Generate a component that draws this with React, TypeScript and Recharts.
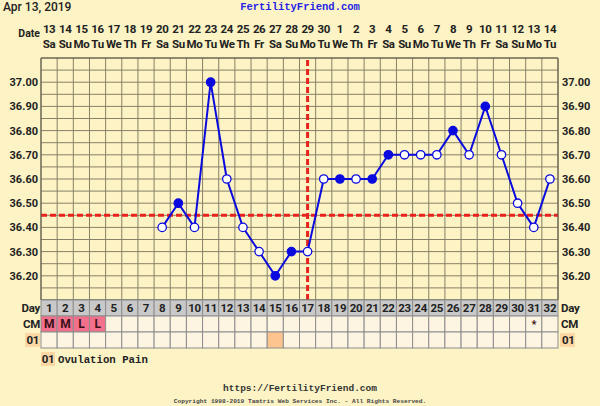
import React from 'react';
import { ComposedChart, Line, XAxis, YAxis, CartesianGrid, ReferenceLine } from 'recharts';

const days = [1, 2, 3, 4, 5, 6, 7, 8, 9, 10, 11, 12, 13, 14, 15, 16, 17, 18, 19, 20, 21, 22, 23, 24, 25, 26, 27, 28, 29, 30, 31, 32];
const dates = ['13', '14', '15', '16', '17', '18', '19', '20', '21', '22', '23', '24', '25', '26', '27', '28', '29', '30', '1', '2', '3', '4', '5', '6', '7', '8', '9', '10', '11', '12', '13', '14'];
const weekdays = ['Sa', 'Su', 'Mo', 'Tu', 'We', 'Th', 'Fr', 'Sa', 'Su', 'Mo', 'Tu', 'We', 'Th', 'Fr', 'Sa', 'Su', 'Mo', 'Tu', 'We', 'Th', 'Fr', 'Sa', 'Su', 'Mo', 'Tu', 'We', 'Th', 'Fr', 'Sa', 'Su', 'Mo', 'Tu'];
const temps = [null, null, null, null, null, null, null, 36.4, 36.5, 36.4, 37.0, 36.6, 36.4, 36.3, 36.2, 36.3, 36.3, 36.6, 36.6, 36.6, 36.6, 36.7, 36.7, 36.7, 36.7, 36.8, 36.7, 36.9, 36.7, 36.5, 36.4, 36.6];
const filledDays = [9, 11, 15, 16, 19, 21, 22, 26, 28];
const cervicalMucus = ['M', 'M', 'L', 'L', '', '', '', '', '', '', '', '', '', '', '', '', '', '', '', '', '', '', '', '', '', '', '', '', '', '', '*', ''];
const ovulationPainDays = [15];
const yTicks = [36.2, 36.3, 36.4, 36.5, 36.6, 36.7, 36.8, 36.9, 37.0];
const coverline = 36.45;
const ovulationDay = 17;

const data = days.map((d, i) => ({ day: d, temp: temps[i] }));

const W = 600;
const H = 406;
const LEFT = 41;
const RIGHT = 42;
const TOP = 58;
const PLOT_H = 242;
const COL = (W - LEFT - RIGHT) / days.length;
const ROW = 16;

const BG = '#fdf3c4';
const GRID = '#878169';
const FONT = 'Roboto, sans-serif';
const MONO = '"Liberation Mono", monospace';
const PEACH = '#fdc48f';

function TopTick(props: any) {
  const { x, y, payload } = props;
  const i = days.indexOf(payload.value);
  return (
    <g fontFamily={FONT} fontWeight="bold" fontSize={11.5} fill="#222" letterSpacing={-0.4}>
      <text x={x} y={y - 25} textAnchor="middle">{dates[i]}</text>
      <text x={x} y={y - 10} textAnchor="middle">{weekdays[i]}</text>
    </g>
  );
}

function BottomTick(props: any) {
  const { x, y, payload } = props;
  const day = payload.value;
  const i = days.indexOf(day);
  const l = x - COL / 2;
  const cm = cervicalMucus[i];
  const pinkCell = cm === 'M' || cm === 'L';
  const pain = ovulationPainDays.includes(day);
  return (
    <g fontFamily={FONT} fontWeight="bold" fontSize={11.5} letterSpacing={-0.3}>
      <rect x={l} y={y} width={COL} height={ROW} fill="#c9c9c9" stroke="#8d8d8d" />
      <text x={x} y={y + 12} textAnchor="middle" fill="#222">{day}</text>
      <rect x={l} y={y + ROW} width={COL} height={ROW} fill={pinkCell ? '#f2708c' : '#fdf4e2'} stroke="#8d8d8d" />
      {cm && <text x={x} y={y + ROW + 12} textAnchor="middle" fill="#3a1018" fontSize={cm === '*' ? 11 : 12}>{cm}</text>}
      <rect x={l} y={y + ROW * 2} width={COL} height={ROW} fill={pain ? PEACH : '#fdf4e2'} stroke="#8d8d8d" />
    </g>
  );
}

function TempDot(props: any) {
  const { cx, cy, payload, index } = props;
  if (payload.temp == null || cx == null || cy == null) return <g key={'d' + index} />;
  const filled = filledDays.includes(payload.day);
  return (
    <circle
      key={'d' + index}
      cx={cx}
      cy={cy}
      r={4.2}
      fill={filled ? '#0a0adf' : '#ffffff'}
      stroke="#0a0adf"
      strokeWidth={1.3}
    />
  );
}

export default function App() {
  const vGrid = () => days.concat([0]).map((_, k) => LEFT + k * COL);
  const hGrid = () => Array.from({ length: 21 }, (_, k) => TOP + (k * PLOT_H) / 20);

  return (
    <div style={{ position: 'relative', width: W, height: H, background: BG }}>
      <style>{'body{margin:0;}'}</style>
      <ComposedChart
        width={W}
        height={H}
        data={data}
        margin={{ top: 0, right: 0, bottom: H - TOP - PLOT_H - ROW * 3, left: 0 }}
      >
        <CartesianGrid
          stroke={GRID}
          strokeWidth={1}
          verticalCoordinatesGenerator={vGrid}
          horizontalCoordinatesGenerator={hGrid}
        />
        <XAxis
          xAxisId="top"
          dataKey="day"
          orientation="top"
          scale="band"
          height={TOP}
          interval={0}
          tickSize={0}
          tickMargin={0}
          axisLine={{ stroke: '#5d5848' }}
          tick={<TopTick />}
        />
        <XAxis
          dataKey="day"
          orientation="bottom"
          scale="band"
          height={ROW * 3}
          interval={0}
          tickSize={0}
          tickMargin={0}
          axisLine={{ stroke: '#5d5848' }}
          tick={<BottomTick />}
        />
        <YAxis
          type="number"
          domain={[36.1, 37.1]}
          ticks={yTicks}
          width={LEFT}
          tickSize={0}
          tickMargin={3}
          axisLine={{ stroke: '#5d5848' }}
          tick={{ fontFamily: FONT, fontWeight: 'bold', fontSize: 11, fill: '#222' }}
          tickFormatter={(v: number) => v.toFixed(2)}
          allowDataOverflow
        />
        <YAxis
          yAxisId="r"
          orientation="right"
          type="number"
          domain={[36.1, 37.1]}
          ticks={yTicks}
          width={RIGHT}
          tickSize={0}
          tickMargin={4}
          axisLine={{ stroke: '#5d5848' }}
          tick={{ fontFamily: FONT, fontWeight: 'bold', fontSize: 11, fill: '#222', textAnchor: 'start' }}
          tickFormatter={(v: number) => v.toFixed(2)}
          allowDataOverflow
        />
        <ReferenceLine y={coverline} stroke="#e8231e" strokeWidth={3} strokeDasharray="6 3" />
        <ReferenceLine x={ovulationDay} stroke="#e8231e" strokeWidth={3} strokeDasharray="6 3" />
        <Line
          dataKey="temp"
          stroke="#0a0adf"
          strokeWidth={2}
          dot={TempDot}
          activeDot={false}
          isAnimationActive={false}
        />
      </ComposedChart>
      <svg
        width={W}
        height={H}
        style={{ position: 'absolute', left: 0, top: 0, pointerEvents: 'none' }}
      >
        <text x={3} y={11} fontFamily={FONT} fontSize={12} fontWeight={500} fill="#222">Apr 13, 2019</text>
        <text x={300} y={10} textAnchor="middle" fontFamily={MONO} fontWeight="bold" fontSize={10.5} fill="#2424e8">FertilityFriend.com</text>
        <text x={40} y={37} textAnchor="end" fontFamily={FONT} fontWeight="bold" fontSize={10.5} fill="#222">Date</text>

        <g fontFamily={FONT} fontWeight="bold" fontSize={11.5} fill="#222" letterSpacing={-0.3}>
          <text x={40} y={312} textAnchor="end">Day</text>
          <text x={40} y={328} textAnchor="end">CM</text>
          <rect x={25} y={333} width={15} height={14} fill={PEACH} opacity={0.6} />
          <text x={39} y={344} textAnchor="end">01</text>
          <text x={561} y={312}>Day</text>
          <text x={561} y={328}>CM</text>
          <rect x={560} y={333} width={15} height={14} fill={PEACH} opacity={0.6} />
          <text x={562} y={344}>01</text>
          <rect x={41} y={352} width={14} height={14} fill={PEACH} opacity={0.6} />
          <text x={48} y={363} textAnchor="middle">01</text>
        </g>
        <text x={58} y={363} fontFamily={MONO} fontWeight="bold" fontSize={10.7} fill="#222">Ovulation Pain</text>

        <text x={300} y={391} textAnchor="middle" fontFamily={MONO} fontWeight="bold" fontSize={9.5} fill="#333">https://FertilityFriend.com</text>
        <text x={300} y={403} textAnchor="middle" fontFamily={MONO} fontWeight="bold" fontSize={6.2} fill="#444">Copyright 1998-2019 Tamtris Web Services Inc. - All Rights Reserved.</text>
      </svg>
    </div>
  );
}
